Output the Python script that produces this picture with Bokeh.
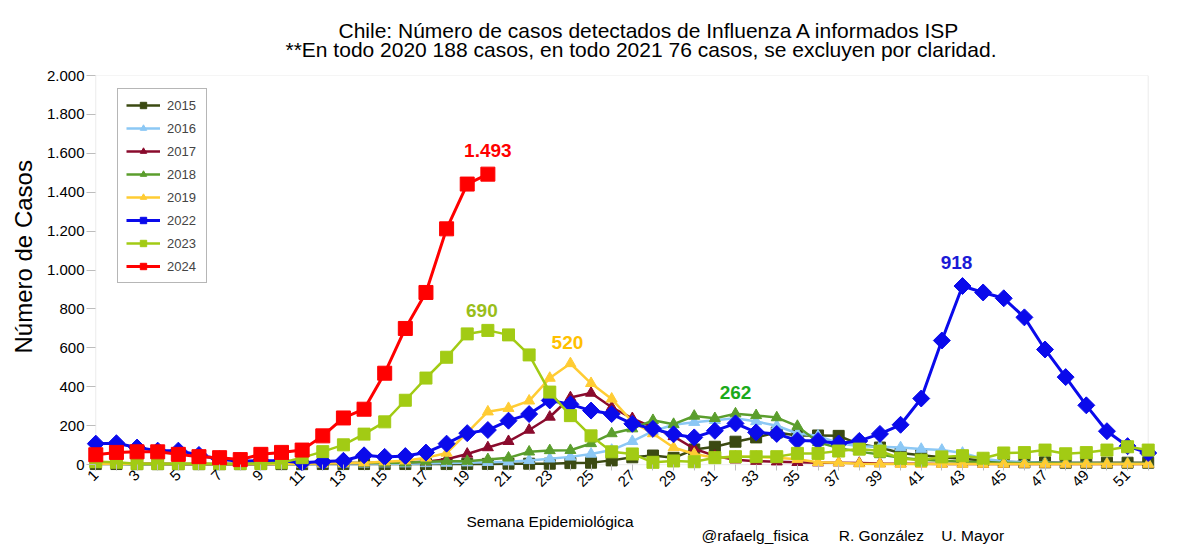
import math
from bokeh.plotting import figure
from bokeh.models import (Range1d, FixedTicker, Legend, LegendItem, Label, Title,
                          BoxAnnotation, ColumnDataSource)
from bokeh.embed import file_html
from bokeh.resources import INLINE

# ---------------- data ----------------
weeks = list(range(1, 53))
weeks_2024 = list(range(1, 21))

y2015 = [3, 3, 2, 2, 2, 2, 2, 2, 2, 2, 2, 3, 3, 3, 3, 3, 3, 3, 4, 4, 5, 5,
         5, 8, 10, 22, 38, 47, 35, 78, 92, 118, 140, 165, 150, 150, 148, 105, 88,
         60, 48, 38, 30, 22, 15, 12, 12, 10, 10, 10, 10, 10]
y2016 = [5, 5, 4, 4, 4, 3, 3, 3, 3, 3, 3, 3, 4, 4, 5, 5, 6, 8, 10, 12,
         15, 22, 30, 40, 55, 75, 120, 172, 205, 218, 228, 238, 222, 200, 160, 148,
         110, 95, 92, 88, 80, 75, 60, 30, 18, 12, 10, 8, 8, 6, 6, 5]
y2017 = [8, 6, 5, 5, 4, 4, 4, 4, 4, 5, 5, 6, 8, 8, 10, 12, 15, 28, 55, 88,
         120, 178, 245, 345, 368, 295, 238, 192, 145, 82, 45, 25, 18, 15, 12, 10,
         10, 8, 6, 5, 5, 4, 4, 3, 3, 3, 3, 3, 3, 3, 3, 3]
y2018 = [5, 5, 4, 4, 4, 4, 4, 4, 5, 5, 6, 6, 8, 8, 9, 10, 15, 18, 18, 27,
         35, 66, 73, 74, 109, 160, 185, 228, 208, 250, 238, 262, 253, 242, 198, 115,
         85, 67, 52, 35, 25, 20, 15, 12, 10, 8, 8, 6, 6, 5, 5, 5]
y2019 = [5, 5, 5, 4, 4, 4, 3, 3, 3, 4, 5, 6, 8, 10, 15, 20, 35, 60, 165, 272,
         290, 328, 445, 520, 418, 338, 220, 160, 88, 55, 35, 42, 40, 35, 28, 12,
         10, 5, 4, 3, 3, 3, 3, 3, 3, 3, 3, 3, 3, 3, 3, 3]
y2022 = [108, 110, 88, 72, 72, 50, 28, 18, 20, 20, 10, 16, 20, 48, 40, 44, 62, 108, 162, 178,
         226, 260, 330, 310, 278, 260, 210, 184, 156, 140, 174, 212, 166, 158, 124, 122,
         109, 122, 158, 205, 340, 638, 918, 885, 855, 757, 592, 450, 305, 172, 95, 60]
y2023 = [15, 12, 5, 5, 5, 5, 4, 5, 6, 10, 36, 67, 102, 157, 220, 331, 445, 552, 672, 690,
         667, 564, 373, 252, 148, 66, 55, 12, 19, 15, 36, 41, 41, 41, 58, 58,
         70, 80, 70, 32, 23, 40, 46, 33, 60, 62, 75, 56, 62, 75, 92, 75]
y2024 = [51, 63, 66, 66, 53, 41, 36, 26, 53, 63, 75, 148, 240, 285, 470, 700, 885, 1212, 1442, 1493]

series_names = ["2015", "2016", "2017", "2018", "2019", "2022", "2023", "2024"]
series_x = [weeks, weeks, weeks, weeks, weeks, weeks, weeks, weeks_2024]
series_y = [y2015, y2016, y2017, y2018, y2019, y2022, y2023, y2024]

peak_weeks = [20, 20, 24, 32, 43]
peak_values = [1493, 690, 520, 262, 918]
peak_texts = ["1.493", "690", "520", "262", "918"]

x_tick_labels = {w: (str(w) if w % 2 == 1 else "") for w in weeks}
y_ticks = [0, 200, 400, 600, 800, 1000, 1200, 1400, 1600, 1800, 2000]
y_tick_labels = ["0", "200", "400", "600", "800", "1.000", "1.200", "1.400",
                 "1.600", "1.800", "2.000"]

title_1 = "Chile: Número de casos detectados de Influenza A informados ISP"
title_2 = "**En todo 2020 188 casos, en todo 2021 76 casos, se excluyen por claridad."
y_title = "Número de Casos"
x_title = "Semana Epidemiológica"
credits = "@rafaelg_fisica" + "\u00a0" * 7 + "R. González" + "\u00a0" * 4 + "U. Mayor"

# ---------------- styles ----------------
FONT = "Liberation Sans"
colors = ["#3B4A12", "#8CC8F5", "#8A0B2D", "#5B9E2D", "#FFCC33", "#0A0AEB", "#A2CB14", "#FF0000"]
markers = ["square", "triangle", "triangle", "triangle", "triangle", "square", "square", "square"]
mangles = [0, 0, 0, 0, 0, math.pi / 4, 0, 0]
msizes = [11, 11, 11, 11, 11, 12, 12, 14]
lwidths = [2.5, 2.5, 2.5, 2.5, 2.5, 3, 2.5, 3]
peak_colors = ["#FF0000", "#99BE1A", "#FFC000", "#1BAA1B", "#1A1AD6"]
peak_offsets = [17, 13, 14, 15, 17]
peak_xoff = [0, -6, -3, 0, -6]

W, H = 1184, 552
p = figure(width=W, height=H, x_range=Range1d(0.55, 52.45), y_range=Range1d(-30, 2000),
           min_border_left=86, min_border_right=27, min_border_top=75, min_border_bottom=82,
           output_backend="svg", toolbar_location=None)
p.grid.visible = False
p.outline_line_color = None
p.background_fill_color = "white"
p.border_fill_color = "white"

# titles (p.title is the outer line)
p.title.text = title_1
p.title.align = "left"
p.title.offset = 252
p.title.text_font = FONT
p.title.text_font_size = "21px"
p.title.text_font_style = "normal"
p.title.text_color = "black"
p.title.standoff = -42
p.add_layout(Title(text=title_2, align="left", offset=199, text_font=FONT,
                   text_font_size="21px", text_font_style="normal", text_color="black",
                   standoff=30), "above")

# plot area frame
p.add_layout(BoxAnnotation(left=1, right=52, bottom=0, top=2000, fill_color=None,
                           line_color="#BDBDBD", line_width=1, level="underlay"))

# axes
xa = p.xaxis[0]
xa.ticker = FixedTicker(ticks=weeks)
xa.major_label_overrides = x_tick_labels
xa.major_label_orientation = math.pi / 4
xa.major_label_text_font = FONT
xa.major_label_text_font_size = "15px"
xa.major_label_text_color = "black"
xa.axis_line_color = None
xa.major_tick_line_color = "#BDBDBD"
xa.major_tick_out = 0
xa.major_tick_in = 6
xa.minor_tick_line_color = None
xa.major_label_standoff = 2

ya = p.yaxis[0]
ya.ticker = FixedTicker(ticks=y_ticks)
ya.major_label_overrides = dict(zip(y_ticks, y_tick_labels))
ya.major_label_text_font = FONT
ya.major_label_text_font_size = "15px"
ya.major_label_text_color = "black"
ya.axis_line_color = None
ya.major_tick_line_color = "#BDBDBD"
ya.major_tick_out = 0
ya.major_tick_in = 9
ya.minor_tick_line_color = None
ya.major_label_standoff = 2

p.add_layout(Title(text=y_title, align="left", offset=117, text_font=FONT,
                   text_font_size="24px", text_font_style="normal", text_color="black",
                   standoff=14), "left")
p.add_layout(Title(text=x_title, align="left", offset=380, text_font=FONT,
                   text_font_size="15.5px", text_font_style="normal", text_color="black",
                   standoff=32), "below")
p.add_layout(Title(text=credits, align="left", offset=615, text_font=FONT,
                   text_font_size="15.5px", text_font_style="normal", text_color="black",
                   vertical_align="top", standoff=-38), "below")

# series
items = []
for name, xs, ys, c, m, a, s, lw in zip(series_names, series_x, series_y, colors, markers,
                                        mangles, msizes, lwidths):
    src = ColumnDataSource(dict(x=xs, y=ys))
    lr = p.line("x", "y", source=src, line_color=c, line_width=lw)
    mr = p.scatter("x", "y", source=src, marker=m, size=s, angle=a,
                   fill_color=c, line_color=c)
    items.append(LegendItem(label=name, renderers=[lr, mr]))

legend = Legend(items=items, location=(31, 187), border_line_color="#6E6E6E",
                border_line_width=1, background_fill_color="white", background_fill_alpha=1,
                label_text_font=FONT, label_text_font_size="13px", glyph_width=34,
                glyph_height=16, label_height=16, label_width=31, spacing=7, padding=8,
                label_standoff=7, margin=0)
p.add_layout(legend)

# peak labels
for wk, v, t, c, off, xo in zip(peak_weeks, peak_values, peak_texts, peak_colors,
                                peak_offsets, peak_xoff):
    p.add_layout(Label(x=wk, y=v, text=t, text_color=c, text_font=FONT, text_font_size="19px",
                       text_font_style="bold", text_align="center", text_baseline="bottom",
                       y_offset=off, x_offset=xo))

open("out.html", "w").write(file_html(p, INLINE))
